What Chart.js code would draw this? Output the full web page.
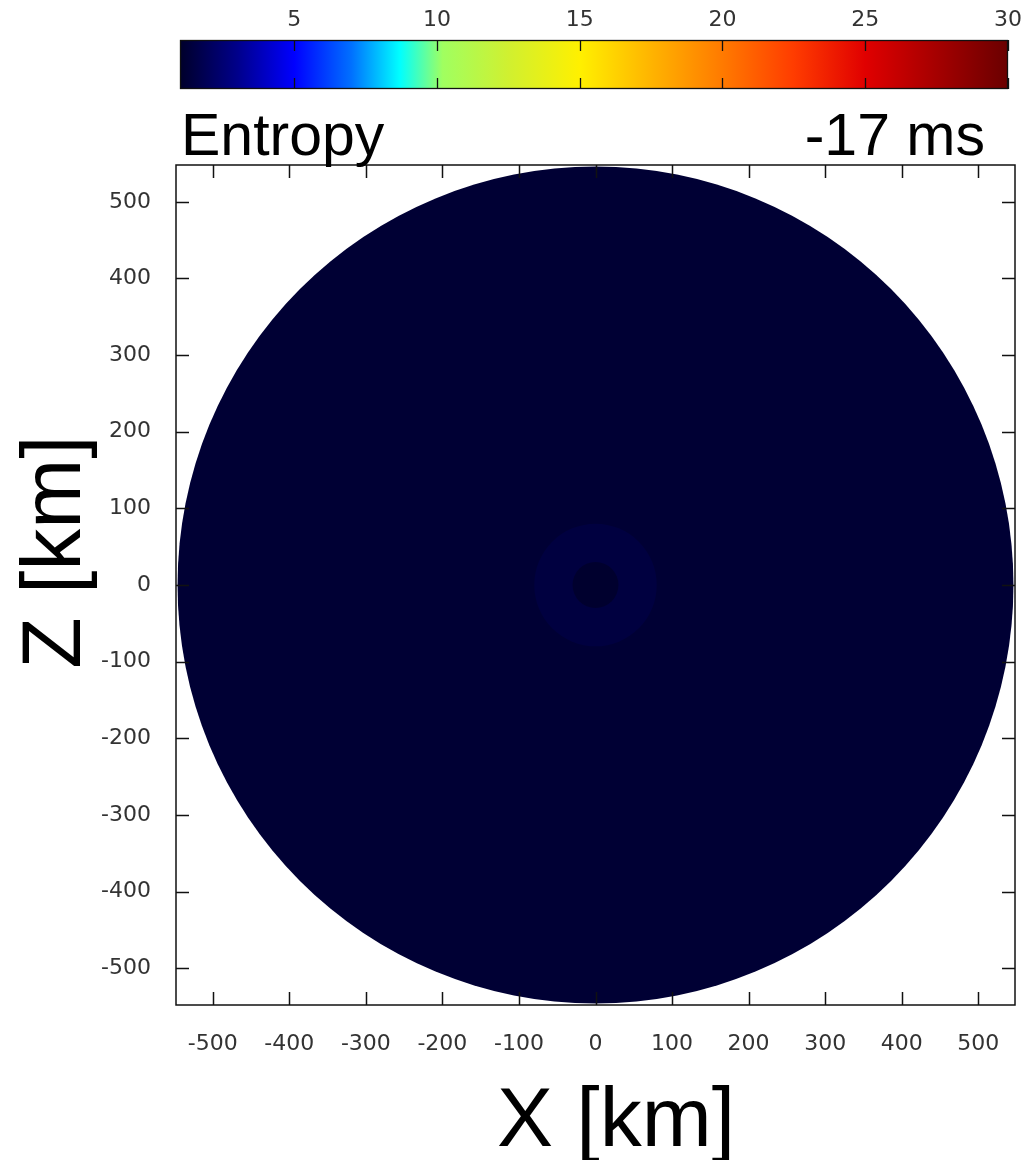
<!DOCTYPE html>
<html><head><meta charset="utf-8">
<script src="https://cdn.jsdelivr.net/npm/chart.js@4/dist/chart.umd.min.js"></script>
<style>
html,body{margin:0;padding:0;background:#fff;width:1023px;height:1160px;overflow:hidden}
#wrap{position:relative;width:1023px;height:1160px}
canvas{position:absolute;left:0;top:0}
</style></head><body>
<div id="wrap"><canvas id="main" width="1023" height="1160"></canvas><canvas id="cbar" width="1023" height="100"></canvas></div>
<script>
// ---- data ----
const axisTicks = [-500,-400,-300,-200,-100,0,100,200,300,400,500];
const axisMin = -548, axisMax = 548;
const colorTicks = [5,10,15,20,25,30];
const colorMin = 1, colorMax = 30;
const colorStopValues = [1,3,5,7,8.7,10.2,12.5,15,17.5,20,22.5,25,30];
const colorStopColors = ['#00002a','#00008a','#0000ff','#0070ff','#00ffff','#a0ff60','#d0f030','#fff000','#ffb400','#ff7a00','#ff3c00','#e00000','#6a0000'];
const shellOuterRadii = [30, 80, 546];      // km
const shellEntropy   = [1.08, 1.45, 1.2];   // entropy in each shell
const panelLabel = 'Entropy';
const timeLabel = '-17 ms';
const xTitle = 'X [km]';
const yTitle = 'Z [km]';

const FONT = '"Liberation Sans", Arial, sans-serif';
const TICKFONT = '"DejaVu Sans", sans-serif';

function hexToRgb(h){return [parseInt(h.substr(1,2),16),parseInt(h.substr(3,2),16),parseInt(h.substr(5,2),16)];}
function colorFor(v){
  if(v<=colorStopValues[0]) return colorStopColors[0];
  for(let i=1;i<colorStopValues.length;i++){
    if(v<=colorStopValues[i]){
      const t=(v-colorStopValues[i-1])/(colorStopValues[i]-colorStopValues[i-1]);
      const a=hexToRgb(colorStopColors[i-1]), b=hexToRgb(colorStopColors[i]);
      return 'rgb('+a.map((c,k)=>Math.round(c+(b[k]-c)*t)).join(',')+')';
    }
  }
  return colorStopColors[colorStopColors.length-1];
}

// ---- main chart plugin ----
const fieldPlugin = {
  id:'field',
  beforeDatasetsDraw(chart){
    const {ctx, scales:{x,y}} = chart;
    const cx = x.getPixelForValue(0), cy = y.getPixelForValue(0);
    ctx.save();
    for(let i=shellOuterRadii.length-1;i>=0;i--){
      const r = shellOuterRadii[i];
      const rx = x.getPixelForValue(r)-cx, ry = cy-y.getPixelForValue(r);
      ctx.beginPath();
      ctx.ellipse(cx,cy,rx,ry,0,0,Math.PI*2);
      ctx.fillStyle = colorFor(shellEntropy[i]);
      ctx.fill();
    }
    ctx.restore();
  },
  afterDraw(chart){
    const {ctx, chartArea:a, scales:{x,y}} = chart;
    ctx.save();
    ctx.strokeStyle='#111'; ctx.lineWidth=1.5;
    ctx.strokeRect(a.left,a.top,a.right-a.left,a.bottom-a.top);
    const tl=13;
    ctx.beginPath();
    axisTicks.forEach(v=>{
      const px=Math.round(x.getPixelForValue(v))+0.5;
      ctx.moveTo(px,a.bottom); ctx.lineTo(px,a.bottom-tl);
      ctx.moveTo(px,a.top); ctx.lineTo(px,a.top+tl);
      const py=Math.round(y.getPixelForValue(v))+0.5;
      ctx.moveTo(a.left,py); ctx.lineTo(a.left+tl,py);
      ctx.moveTo(a.right,py); ctx.lineTo(a.right-tl,py);
    });
    ctx.stroke();
    // labels
    ctx.fillStyle='#000';
    ctx.textBaseline='alphabetic';
    ctx.font='59px '+FONT;
    ctx.textAlign='left';
    ctx.fillText(panelLabel, a.left+5, a.top-10);
    ctx.textAlign='right';
    ctx.fillText(timeLabel, a.right-30, a.top-10);
    ctx.font='84px '+FONT;
    ctx.textAlign='center';
    ctx.fillText(xTitle, 616, 1146);
    ctx.translate(80,552);
    ctx.rotate(-Math.PI/2);
    ctx.fillText(yTitle, 0, 0);
    ctx.restore();
  }
};

const tickFont = {family:TICKFONT, size:22};
new Chart(document.getElementById('main'),{
  type:'scatter',
  data:{datasets:[{data:[{x:0,y:0}],pointRadius:0}]},
  options:{
    responsive:false, animation:false, devicePixelRatio:1,
    layout:{padding:{left:0,top:165,right:8,bottom:0}},
    plugins:{legend:{display:false},tooltip:{enabled:false}},
    scales:{
      x:{type:'linear',min:axisMin,max:axisMax,
        afterBuildTicks(s){s.ticks=axisTicks.map(v=>({value:v}));},
        afterFit(s){s.height=155;s.paddingLeft=0;s.paddingRight=0;},
        grid:{display:false,drawTicks:false},border:{display:false},
        ticks:{font:tickFont,color:'#333',padding:26,maxRotation:0,autoSkip:false}},
      y:{type:'linear',min:axisMin,max:axisMax,
        afterBuildTicks(s){s.ticks=axisTicks.map(v=>({value:v}));},
        afterFit(s){s.width=176;s.paddingTop=0;s.paddingBottom=0;},
        grid:{display:false,drawTicks:false},border:{display:false},
        ticks:{font:tickFont,color:'#333',padding:25,autoSkip:false}}
    }
  },
  plugins:[fieldPlugin]
});

// ---- colour bar ----
const cbarPlugin = {
  id:'cbar',
  beforeDatasetsDraw(chart){
    const {ctx, chartArea:a, scales:{x}} = chart;
    const g = ctx.createLinearGradient(a.left,0,a.right,0);
    colorStopValues.forEach((v,i)=>{
      const f=(x.getPixelForValue(v)-a.left)/(a.right-a.left);
      g.addColorStop(Math.min(1,Math.max(0,f)), colorStopColors[i]);
    });
    ctx.save();
    ctx.fillStyle=g;
    ctx.fillRect(a.left,a.top,a.right-a.left,a.bottom-a.top);
    ctx.restore();
  },
  afterDraw(chart){
    const {ctx, chartArea:a, scales:{x}} = chart;
    ctx.save();
    ctx.strokeStyle='#111'; ctx.lineWidth=1.3;
    ctx.strokeRect(a.left+0.5,a.top+0.5,a.right-a.left-1,a.bottom-a.top-1);
    ctx.beginPath();
    colorTicks.forEach(v=>{
      const px=Math.round(x.getPixelForValue(v))+0.5;
      ctx.moveTo(px,a.top); ctx.lineTo(px,a.top+11);
      ctx.moveTo(px,a.bottom); ctx.lineTo(px,a.bottom-11);
    });
    ctx.stroke();
    ctx.restore();
  }
};
new Chart(document.getElementById('cbar'),{
  type:'scatter',
  data:{datasets:[{data:[],pointRadius:0}]},
  options:{
    responsive:false, animation:false, devicePixelRatio:1,
    layout:{padding:{left:180,top:0,right:15,bottom:11}},
    plugins:{legend:{display:false},tooltip:{enabled:false}},
    scales:{
      x:{type:'linear',position:'top',min:colorMin,max:colorMax,
        afterBuildTicks(s){s.ticks=colorTicks.map(v=>({value:v}));},
        afterFit(s){s.height=40;s.paddingLeft=0;s.paddingRight=0;},
        grid:{display:false,drawTicks:false},border:{display:false},
        ticks:{font:{family:TICKFONT,size:22},color:'#333',padding:7,maxRotation:0,autoSkip:false}},
      y:{display:false,min:0,max:1}
    }
  },
  plugins:[cbarPlugin]
});
</script>
</body></html>
